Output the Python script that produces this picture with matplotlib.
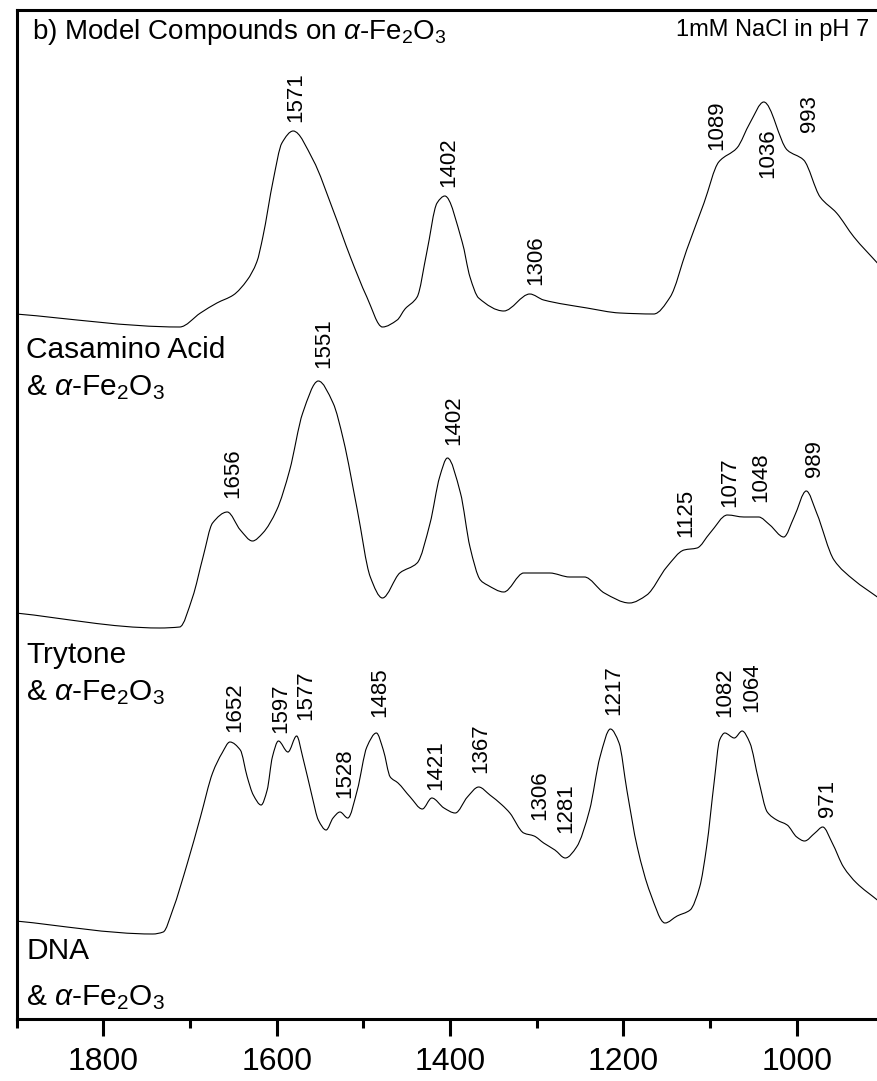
import matplotlib
matplotlib.use("Agg")
import matplotlib.pyplot as plt
from matplotlib.path import Path
from matplotlib.patches import PathPatch

plt.rcParams['font.family'] = ['Liberation Sans', 'DejaVu Sans']
plt.rcParams['mathtext.fontset'] = 'custom'
plt.rcParams['mathtext.rm'] = 'Liberation Sans'
plt.rcParams['mathtext.it'] = 'Liberation Sans:italic'

# --- spectra (wavenumber, relative absorbance) ---
casamino_wn = [1901, 1712, 1688, 1669, 1650, 1634, 1623, 1616, 1604, 1594, 1581, 1558,
               1535, 1515, 1496, 1478, 1461, 1452, 1438, 1427, 1415, 1406, 1386, 1377,
               1367, 1338, 1308, 1292, 1242, 1204, 1165, 1146, 1127, 1107, 1090, 1069,
               1054, 1038, 1011, 992, 973, 954, 934, 907]
casamino_ab = [0.13, 0.00, 0.14, 0.24, 0.32, 0.47, 0.65, 0.90, 1.47, 1.84, 1.96, 1.67,
               1.17, 0.70, 0.30, 0.00, 0.07, 0.18, 0.30, 0.74, 1.24, 1.31, 0.85, 0.50,
               0.29, 0.16, 0.33, 0.27, 0.19, 0.14, 0.13, 0.30, 0.77, 1.24, 1.65, 1.79,
               2.04, 2.25, 1.77, 1.67, 1.30, 1.14, 0.90, 0.64]

tryptone_wn = [1901, 1735, 1712, 1697, 1685, 1674, 1657, 1642, 1628, 1616, 1600, 1585,
               1570, 1552, 1535, 1523, 1507, 1492, 1478, 1458, 1438, 1423, 1412, 1403,
               1388, 1377, 1365, 1357, 1338, 1315, 1285, 1262, 1245, 1222, 1193, 1173,
               1150, 1130, 1115, 1100, 1080, 1061, 1044, 1031, 1015, 1003, 989, 977,
               957, 934, 907]
tryptone_ab = [0.15, 0.00, 0.01, 0.31, 0.71, 1.05, 1.16, 0.98, 0.87, 0.95, 1.18, 1.58,
               2.15, 2.47, 2.25, 1.88, 1.18, 0.51, 0.30, 0.55, 0.65, 1.05, 1.51, 1.70,
               1.35, 0.81, 0.48, 0.43, 0.36, 0.55, 0.55, 0.51, 0.51, 0.35, 0.25, 0.33,
               0.61, 0.78, 0.80, 0.95, 1.13, 1.11, 1.11, 1.03, 0.91, 1.11, 1.37, 1.15,
               0.68, 0.48, 0.31]

dna_wn = [1901, 1743, 1731, 1720, 1703, 1688, 1674, 1663, 1654, 1642, 1634, 1627,
          1618, 1611, 1605, 1598, 1587, 1577, 1570, 1559, 1552, 1543, 1535, 1527,
          1518, 1507, 1496, 1485, 1477, 1469, 1460, 1446, 1432, 1421, 1407, 1394,
          1380, 1367, 1354, 1340, 1331, 1315, 1303, 1292, 1279, 1267, 1254, 1239,
          1227, 1215, 1205, 1196, 1184, 1169, 1152, 1138, 1123, 1112, 1104, 1095,
          1089, 1083, 1072, 1063, 1054, 1044, 1034, 1023, 1011, 1000, 991, 979,
          970, 959, 946, 931, 907]
dna_ab = [0.13, 0.00, 0.02, 0.24, 0.71, 1.17, 1.61, 1.81, 1.92, 1.84, 1.57, 1.39,
          1.29, 1.44, 1.77, 1.93, 1.82, 1.98, 1.77, 1.37, 1.14, 1.04, 1.16, 1.22,
          1.16, 1.44, 1.87, 2.01, 1.84, 1.57, 1.51, 1.37, 1.25, 1.36, 1.26, 1.21,
          1.37, 1.47, 1.39, 1.29, 1.21, 1.01, 0.98, 0.91, 0.84, 0.76, 0.87, 1.24,
          1.77, 2.05, 1.91, 1.44, 0.87, 0.41, 0.11, 0.18, 0.24, 0.47, 0.87, 1.54,
          1.94, 2.01, 1.96, 2.03, 1.91, 1.54, 1.22, 1.14, 1.09, 0.97, 0.93, 1.01,
          1.07, 0.91, 0.67, 0.51, 0.34]

# peak labels
casamino_peaks = ['1571', '1402', '1306', '1089', '1036', '993']
tryptone_peaks = ['1656', '1551', '1402', '1125', '1077', '1048', '989']
dna_peaks = ['1652', '1597', '1577', '1528', '1485', '1421', '1367', '1306', '1281',
             '1217', '1082', '1064', '971']

# layout: vertical offsets of the stacked traces, label positions (x in cm-1, y in data)
offsets = [6.92, 3.91, 0.85]
casamino_lx = [1578, 1402, 1301, 1092, 1034, 985]
casamino_ly = [8.97, 8.32, 7.34, 8.69, 8.41, 8.87]
tryptone_lx = [1651, 1546, 1396, 1128, 1077, 1042, 980]
tryptone_ly = [5.21, 6.51, 5.74, 4.82, 5.12, 5.17, 5.42]
dna_lx = [1648, 1595, 1567, 1521, 1481, 1416, 1365, 1297, 1267, 1211, 1083, 1052, 964]
dna_ly = [2.87, 2.86, 2.99, 2.21, 3.02, 2.29, 2.46, 1.99, 1.86, 3.04, 3.02, 3.07, 2.02]


def smooth_path(xs, ys):
    # monotone cubic hermite through the read points, as bezier segments
    n = len(xs)
    d = [(ys[i + 1] - ys[i]) / (xs[i + 1] - xs[i]) for i in range(n - 1)]
    slopes = [d[0]]
    for i in range(1, n - 1):
        if d[i - 1] * d[i] <= 0:
            slopes.append(0.0)
        else:
            slopes.append(2 * d[i - 1] * d[i] / (d[i - 1] + d[i]))
    slopes.append(d[-1])
    verts = [(xs[0], ys[0])]
    codes = [Path.MOVETO]
    for i in range(n - 1):
        h = (xs[i + 1] - xs[i]) / 3.0
        verts.append((xs[i] + h, ys[i] + slopes[i] * h))
        verts.append((xs[i + 1] - h, ys[i + 1] - slopes[i + 1] * h))
        verts.append((xs[i + 1], ys[i + 1]))
        codes += [Path.CURVE4] * 3
    return Path(verts, codes)


fig = plt.figure(figsize=(8.77, 10.81), dpi=100)
ax = fig.add_axes([0.01904, 0.05735, 0.98826, 0.93294])

series = [(casamino_wn, casamino_ab), (tryptone_wn, tryptone_ab), (dna_wn, dna_ab)]
for (wn, ab), off in zip(series, offsets):
    p = smooth_path(wn, [a + off for a in ab])
    ax.add_patch(PathPatch(p, fill=False, edgecolor='black', lw=0.8))

for labs, lx, ly in [(casamino_peaks, casamino_lx, casamino_ly),
                     (tryptone_peaks, tryptone_lx, tryptone_ly),
                     (dna_peaks, dna_lx, dna_ly)]:
    for s, x, y in zip(labs, lx, ly):
        ax.text(x, y, s, rotation=90, ha='center', va='bottom', fontsize=16)

fe = r'& $\alpha$-Fe$_2$O$_3$'
ax.text(1889, 6.61, 'Casamino Acid', fontsize=21.5, va='baseline')
ax.text(1889, 6.24, fe, fontsize=21.5, va='baseline')
ax.text(1889, 3.56, 'Trytone', fontsize=21.5, va='baseline')
ax.text(1889, 3.19, fe, fontsize=21.5, va='baseline')
ax.text(1889, 0.60, 'DNA', fontsize=21.5, va='baseline')
ax.text(1889, 0.14, fe, fontsize=21.5, va='baseline')

ax.text(1882, 9.80, r'b) Model Compounds on $\alpha$-Fe$_2$O$_3$', fontsize=20, va='baseline')
ax.text(916, 9.83, '1mM NaCl in pH 7', fontsize=17, va='baseline', ha='right')

ax.set_xlim(1900, 900)
ax.set_ylim(0, 10.085)
ax.set_xticks([1800, 1600, 1400, 1200, 1000])
ax.set_xticks([1900, 1700, 1500, 1300, 1100, 900], minor=True)
ax.set_yticks([])
ax.tick_params(axis='x', which='major', direction='out', length=12, width=2.2,
               labelsize=23, pad=8)
ax.tick_params(axis='x', which='minor', direction='out', length=6.5, width=2.2)
for side in ['left', 'bottom', 'top']:
    ax.spines[side].set_linewidth(2.2)
ax.spines['right'].set_visible(False)

fig.savefig('out.png', dpi=100)
